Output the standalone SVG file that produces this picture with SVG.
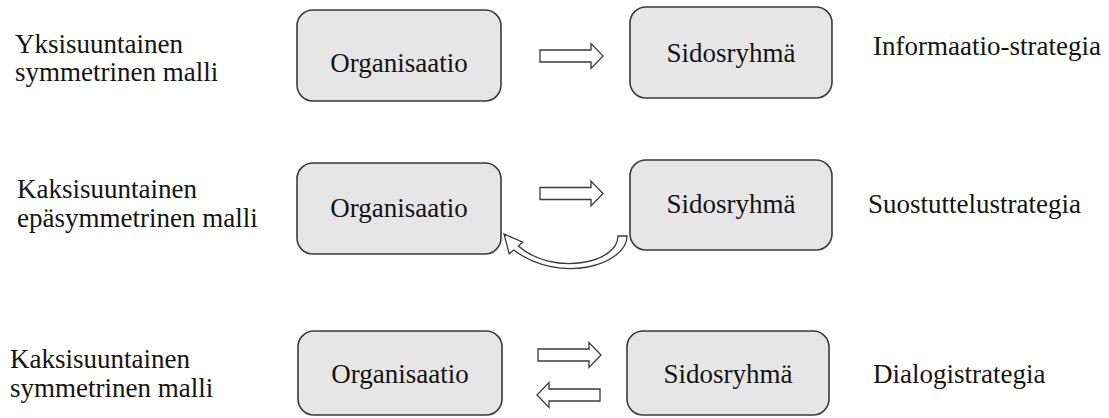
<svg xmlns="http://www.w3.org/2000/svg" xmlns:xlink="http://www.w3.org/1999/xlink" width="1109" height="418" viewBox="0 0 1109 418">
  <style>
    .box { fill: #e6e6e6; stroke: #3a3a3a; stroke-width: 1.6; }
    .lbl { font-family: "Liberation Serif", "Times New Roman", serif; font-size: 27px; fill: #141414; }
    .mid { text-anchor: middle; }
    .arrow { fill: #ffffff; stroke: #3a3a3a; stroke-width: 1.3; stroke-linejoin: miter; }
  </style>
  <defs>
    <!-- hollow block arrow pointing right, origin at tail centre -->
    <path id="blockArrow" d="M0,-6 H51 V-12.5 L63,0 L51,12.5 V6 H0 Z"/>
  </defs>
  <rect width="1109" height="418" fill="#ffffff"/>

  <!-- model names -->
  <g id="model-labels" class="lbl">
    <text x="15" y="53">Yksisuuntainen</text>
    <text x="15" y="81">symmetrinen malli</text>
    <text x="17" y="198">Kaksisuuntainen</text>
    <text x="17" y="227">epäsymmetrinen malli</text>
    <text x="10" y="368">Kaksisuuntainen</text>
    <text x="10" y="397">symmetrinen malli</text>
  </g>

  <!-- row 1 -->
  <g id="org1">
    <rect class="box" x="297" y="10" width="204" height="91" rx="16"/>
    <text class="lbl mid" x="399" y="72">Organisaatio</text>
  </g>
  <g id="sid1">
    <rect class="box" x="630" y="7" width="202" height="91" rx="16"/>
    <text class="lbl mid" x="731" y="62">Sidosryhmä</text>
  </g>

  <!-- row 2 -->
  <g id="org2">
    <rect class="box" x="297" y="163" width="204" height="91" rx="16"/>
    <text class="lbl mid" x="399" y="217">Organisaatio</text>
  </g>
  <g id="sid2">
    <rect class="box" x="630" y="160" width="202" height="90" rx="16"/>
    <text class="lbl mid" x="731" y="213">Sidosryhmä</text>
  </g>

  <!-- row 3 -->
  <g id="org3">
    <rect class="box" x="298" y="331" width="204" height="84" rx="16"/>
    <text class="lbl mid" x="400" y="383">Organisaatio</text>
  </g>
  <g id="sid3">
    <rect class="box" x="627" y="331" width="202" height="84" rx="16"/>
    <text class="lbl mid" x="728" y="383">Sidosryhmä</text>
  </g>

  <!-- strategies -->
  <g id="strategy-labels" class="lbl">
    <text x="873" y="55">Informaatio-strategia</text>
    <text x="868" y="213">Suostuttelustrategia</text>
    <text x="873" y="383">Dialogistrategia</text>
  </g>

  <!-- connectors -->
  <g id="connectors">
    <use xlink:href="#blockArrow" class="arrow" transform="translate(540,56)"/>
    <use xlink:href="#blockArrow" class="arrow" transform="translate(540,193.5)"/>
    <!-- curved feedback arrow from stakeholder back to organisation -->
    <path class="arrow" d="M618,236 L627,236 C627,265 560,285 513.7,250 L509.2,253.8 L504,234 L522.8,242.2 L518.3,246 C552,276 618,264 618,236 Z"/>
    <use xlink:href="#blockArrow" class="arrow" transform="translate(538,355)"/>
    <use xlink:href="#blockArrow" class="arrow" transform="translate(600,395) scale(-1,1)"/>
  </g>
</svg>
